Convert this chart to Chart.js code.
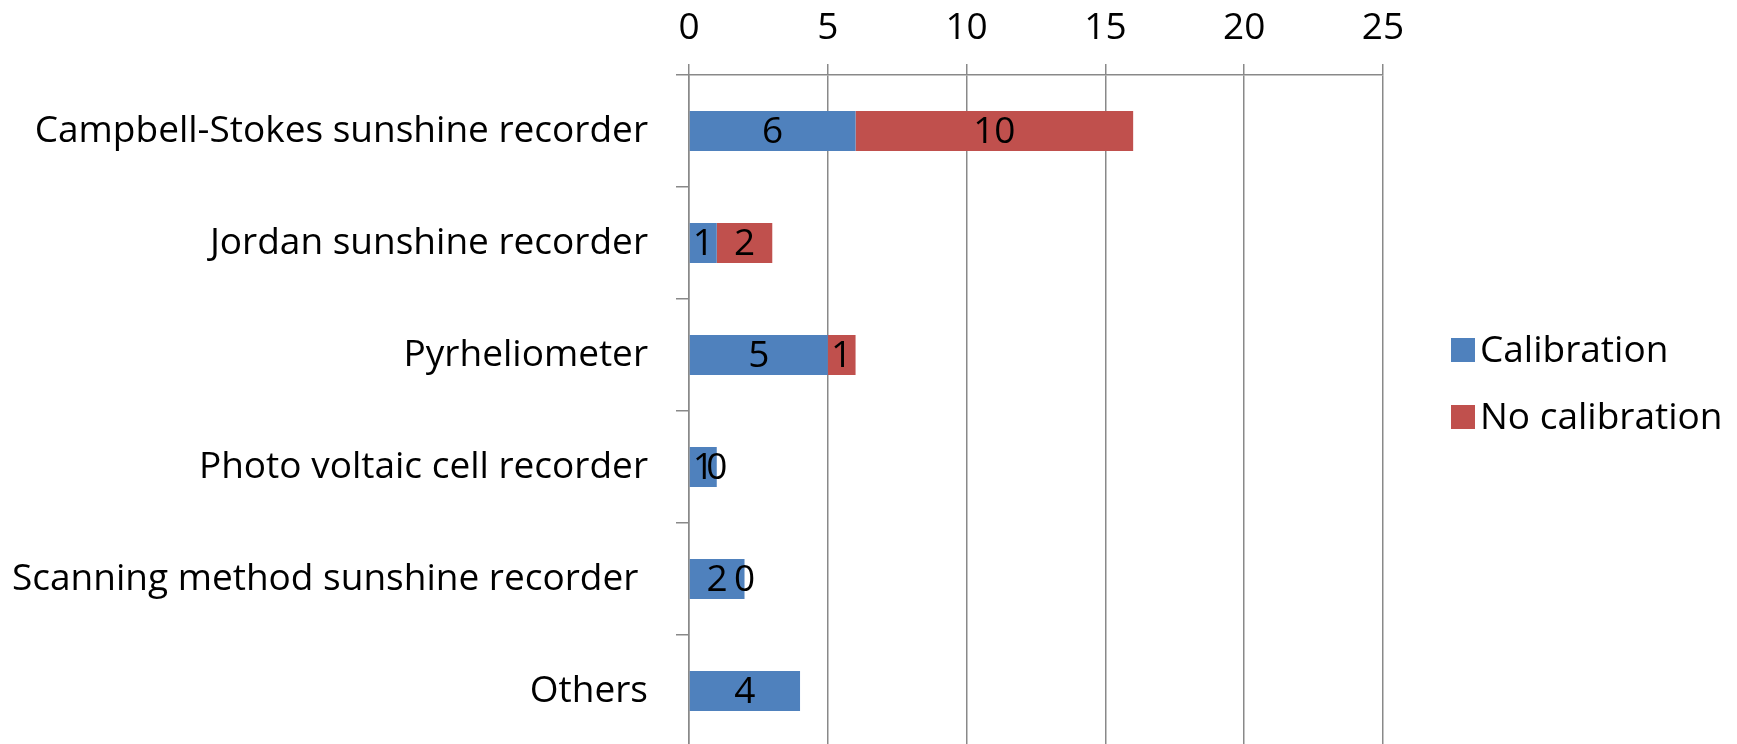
<!DOCTYPE html>
<html>
<head>
<meta charset="utf-8">
<script src="https://cdn.jsdelivr.net/npm/chart.js@4.4.1/dist/chart.umd.min.js"></script>
<style>
  html, body { margin: 0; padding: 0; background: #fff; overflow: hidden; }
  #wrap { position: relative; width: 1737px; height: 747px; }
</style>
</head>
<body>
<div id="wrap"><canvas id="sunChart"></canvas></div>
<script>
// chart data
const categories = [
  'Campbell-Stokes sunshine recorder',
  'Jordan sunshine recorder',
  'Pyrheliometer',
  'Photo voltaic cell recorder',
  'Scanning method sunshine recorder ',
  'Others'
];
const calibration = [6, 1, 5, 1, 2, 4];
const noCalibration = [10, 2, 1, 0, 0, null];
const seriesNames = ['Calibration', 'No calibration'];
const xTickValues = [0, 5, 10, 15, 20, 25];

const FONT = '"Open Sans", Lato, sans-serif';
const FONT_SIZE = 37;
const GRID = '#898989';

// draws the value in the middle of every bar segment
const barLabels = {
  id: 'barLabels',
  afterDatasetsDraw(chart) {
    const ctx = chart.ctx;
    ctx.save();
    ctx.font = FONT_SIZE + 'px ' + FONT;
    ctx.fillStyle = '#000';
    ctx.textAlign = 'center';
    ctx.textBaseline = 'middle';
    chart.data.datasets.forEach((ds, i) => {
      const meta = chart.getDatasetMeta(i);
      meta.data.forEach((bar, j) => {
        const v = ds.data[j];
        if (v === null || v === undefined) return;
        const p = bar.getProps(['x', 'y', 'base'], true);
        ctx.fillText(String(v), (p.x + p.base) / 2, p.y + 1);
      });
    });
    ctx.restore();
  }
};

// legend to the right of the plot, vertically stacked
const sideLegend = {
  id: 'sideLegend',
  afterDraw(chart) {
    const ctx = chart.ctx;
    const area = chart.chartArea;
    const left = area.right + 68;
    const top = 350;
    ctx.save();
    ctx.font = FONT_SIZE + 'px ' + FONT;
    ctx.textBaseline = 'middle';
    ctx.textAlign = 'left';
    chart.data.datasets.forEach((ds, i) => {
      const cy = top + i * 67;
      ctx.fillStyle = ds.backgroundColor;
      ctx.fillRect(left, cy - 12, 24, 24);
      ctx.fillStyle = '#000';
      ctx.fillText(ds.label, left + 29, cy + 1);
    });
    ctx.restore();
  }
};

const ctx = document.getElementById('sunChart').getContext('2d');
new Chart(ctx, {
  type: 'bar',
  data: {
    labels: categories,
    datasets: [
      {
        label: seriesNames[0],
        data: calibration,
        backgroundColor: '#4F81BD',
        categoryPercentage: 1,
        barPercentage: 0.357
      },
      {
        label: seriesNames[1],
        data: noCalibration,
        backgroundColor: '#C0504D',
        categoryPercentage: 1,
        barPercentage: 0.357
      }
    ]
  },
  options: {
    indexAxis: 'y',
    responsive: true,
    maintainAspectRatio: false,
    animation: false,
    layout: { padding: { top: 0, right: 354, bottom: 0, left: 0 } },
    scales: {
      x: {
        position: 'top',
        stacked: true,
        min: 0,
        max: 25,
        afterBuildTicks(scale) {
          scale.ticks = xTickValues.map(v => ({ value: v }));
        },
        afterFit(scale) {
          scale.height = 75;
          scale.paddingLeft = 0;
          scale.paddingRight = 0;
        },
        grid: { color: GRID, lineWidth: 1.5, tickLength: 11 },
        border: { color: GRID, width: 1.5 },
        ticks: {
          color: '#000',
          padding: 13,
          font: { family: FONT, size: FONT_SIZE }
        }
      },
      y: {
        stacked: true,
        afterFit(scale) {
          scale.width = 689;
          scale.paddingTop = 0;
          scale.paddingBottom = 0;
        },
        grid: { offset: true, drawOnChartArea: false, color: GRID, lineWidth: 1.5, tickLength: 13 },
        border: { color: GRID, width: 1.5 },
        ticks: {
          color: '#000',
          padding: 28,
          autoSkip: false,
          font: { family: FONT, size: FONT_SIZE }
        }
      }
    },
    plugins: {
      legend: { display: false },
      tooltip: { enabled: false }
    }
  },
  plugins: [barLabels, sideLegend]
});
</script>
</body>
</html>
